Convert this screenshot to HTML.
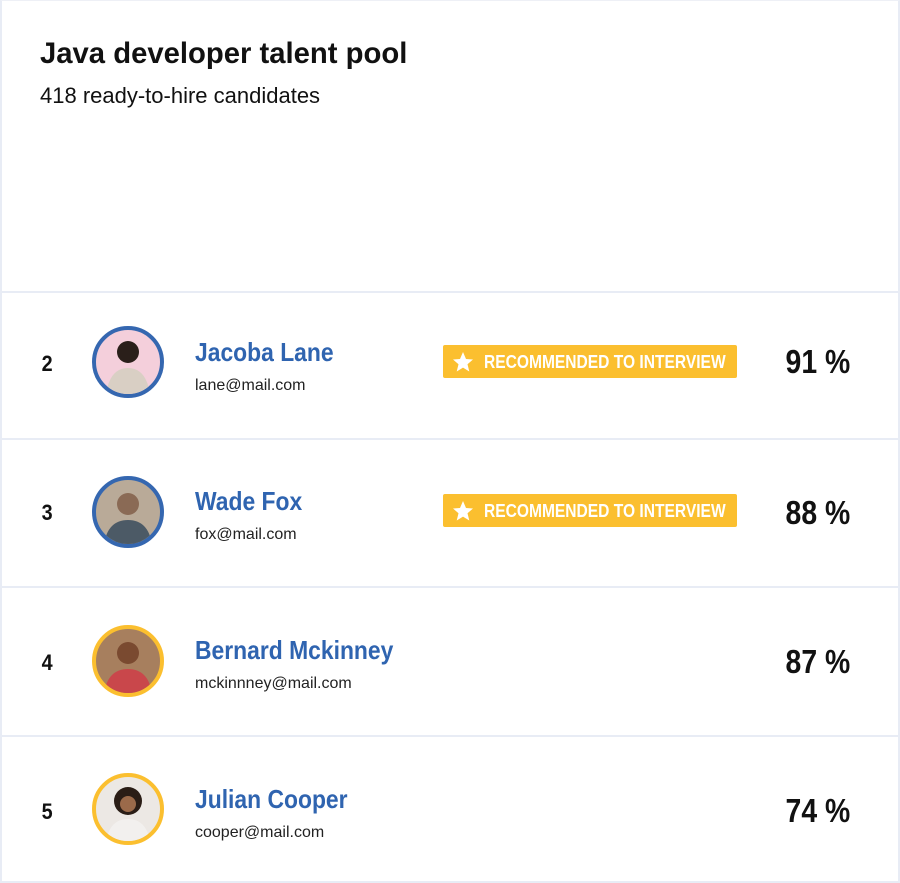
<!DOCTYPE html>
<html><head><meta charset="utf-8"><style>
*{margin:0;padding:0;box-sizing:border-box}
body{width:900px;height:883px;background:#fff;font-family:"Liberation Sans",sans-serif;position:relative;overflow:hidden}
.card{position:absolute;left:0;top:0;width:900px;height:883px;border:2px solid #e8ecf5;border-top:1px solid #eef0f6}
h1{position:absolute;left:40px;top:37px;font-weight:bold;font-size:30px;color:#111;transform:scaleX(0.975);transform-origin:left top;white-space:nowrap}
.sub{position:absolute;left:40px;top:83px;font-size:22px;color:#111;white-space:nowrap}
.row{position:absolute;left:0;width:900px;border-top:2px solid #e8ecf5}
.num{position:absolute;left:41px;font-weight:bold;font-size:22px;color:#111;transform:scaleX(0.9)}
.av{position:absolute;left:92px;width:72px;height:72px;border-radius:50%;border:4px solid #3567b0;overflow:hidden;background:#f3d6df}
.av.y{border-color:#fbbf2f}
.name{position:absolute;left:195px;font-weight:bold;font-size:26px;color:#2f64b0;transform:scaleX(0.88);transform-origin:left top;white-space:nowrap}
.mail{position:absolute;left:195px;font-size:16px;color:#222}
.badge{position:absolute;left:443px;width:294px;height:33px;background:#fbbf2f;border-radius:2px;color:#fff}
.badge span{position:absolute;left:41px;top:7px;font-weight:bold;font-size:18px;line-height:20px;white-space:nowrap;transform:scaleX(0.865);transform-origin:left top}
.badge svg{position:absolute;left:8px;top:5px}
.pct{position:absolute;right:50px;font-weight:bold;font-size:33px;color:#111;transform:scaleX(0.86);transform-origin:right top;white-space:nowrap}
</style></head><body>
<div class="card"></div>
<h1>Java developer talent pool</h1>
<div class="sub">418 ready-to-hire candidates</div>

<div class="row" style="top:291px;height:148px">
<div class="num" style="top:58px">2</div>
<div class="av" style="top:33px;background:#f4cfdb"><svg width="64" height="64"><circle cx="32" cy="22" r="11" fill="#2a1f1a"/><path d="M10 64 Q14 38 32 38 Q50 38 54 64Z" fill="#d9cfc4"/></svg></div>
<div class="name" style="top:44px">Jacoba Lane</div>
<div class="mail" style="top:84px">lane@mail.com</div>
<div class="badge" style="top:52px"><svg width="24" height="24" viewBox="0 0 24 24"><path d="M12 2l3 7 7 .5-5.5 4.7 1.8 7.3L12 17.6 5.7 21.5l1.8-7.3L2 9.5 9 9z" fill="#fff"/></svg><span>RECOMMENDED TO INTERVIEW</span></div>
<div class="pct" style="top:50px">91 %</div>
</div>

<div class="row" style="top:438px;height:148px">
<div class="num" style="top:60px">3</div>
<div class="av" style="top:36px;background:#b9aa98"><svg width="64" height="64"><circle cx="32" cy="24" r="11" fill="#8a6a55"/><path d="M8 64 Q12 40 32 40 Q52 40 56 64Z" fill="#4c5a66"/></svg></div>
<div class="name" style="top:46px">Wade Fox</div>
<div class="mail" style="top:86px">fox@mail.com</div>
<div class="badge" style="top:54px"><svg width="24" height="24" viewBox="0 0 24 24"><path d="M12 2l3 7 7 .5-5.5 4.7 1.8 7.3L12 17.6 5.7 21.5l1.8-7.3L2 9.5 9 9z" fill="#fff"/></svg><span>RECOMMENDED TO INTERVIEW</span></div>
<div class="pct" style="top:54px">88 %</div>
</div>

<div class="row" style="top:586px;height:149px">
<div class="num" style="top:62px">4</div>
<div class="av y" style="top:37px;background:#a77f5e"><svg width="64" height="64"><circle cx="32" cy="24" r="11" fill="#7a4a30"/><path d="M8 64 Q12 40 32 40 Q52 40 56 64Z" fill="#c9474b"/></svg></div>
<div class="name" style="top:47px">Bernard Mckinney</div>
<div class="mail" style="top:87px">mckinnney@mail.com</div>
<div class="pct" style="top:55px">87 %</div>
</div>

<div class="row" style="top:735px;height:148px">
<div class="num" style="top:62px">5</div>
<div class="av y" style="top:36px;background:#ece8e4"><svg width="64" height="64"><circle cx="32" cy="24" r="14" fill="#2a1d16"/><circle cx="32" cy="27" r="8" fill="#9b6a4a"/><path d="M10 64 Q14 42 32 42 Q50 42 54 64Z" fill="#f2f0ee"/></svg></div>
<div class="name" style="top:47px">Julian Cooper</div>
<div class="mail" style="top:87px">cooper@mail.com</div>
<div class="pct" style="top:55px">74 %</div>
</div>
</body></html>
